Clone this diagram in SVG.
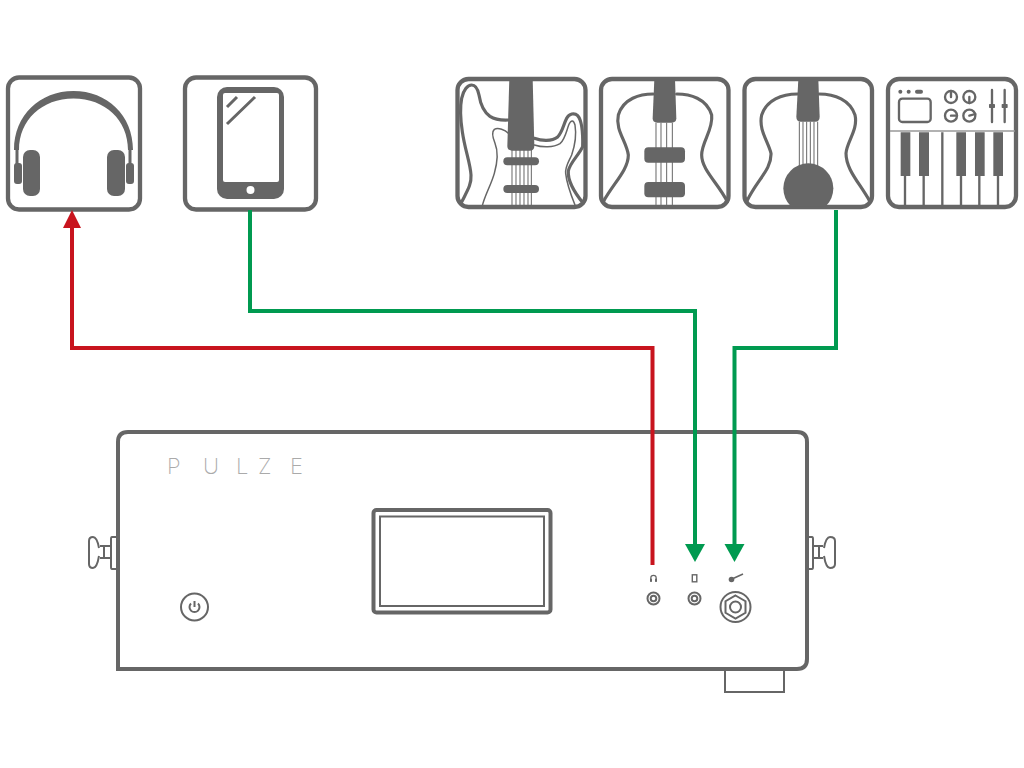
<svg xmlns="http://www.w3.org/2000/svg" width="1024" height="768" viewBox="0 0 1024 768">
<style>
.box{fill:#fff;stroke:#666;stroke-width:4.300}
.f{fill:#666;stroke:none}
.z{fill:none;stroke:#666;stroke-linecap:round;stroke-linejoin:round}
.t9{stroke-width:9.500}.t6{stroke-width:7}.t4{stroke-width:4.500}.t3{stroke-width:3}
.o2{fill:none;stroke:#666;stroke-width:2}
.o4{fill:none;stroke:#666;stroke-width:4}
.wire{fill:none;stroke-width:4}
</style>
<defs>
<marker id="ar" markerUnits="userSpaceOnUse" markerWidth="20" markerHeight="20" refX="2" refY="10" orient="auto"><path d="M0 1L18 10L0 19Z" fill="#c8141e"/></marker>
<marker id="ag" markerUnits="userSpaceOnUse" markerWidth="20" markerHeight="22" refX="2" refY="11" orient="auto"><path d="M0 1L18 11L0 21Z" fill="#009a50"/></marker>
<clipPath id="c3"><rect x="25" y="25" width="390" height="385" rx="30"/></clipPath>
</defs>
<rect width="1024" height="768" fill="#fff"/>

<g id="headphones">
<rect class="box" x="8" y="77.500" width="132" height="132" rx="11"/>
<path class="f" d="M14 150C14 115 40 91 73.500 91C107 91 133 115 133 150H128C128 120 105 98.500 73.500 98.500C42 98.500 19 120 19 150Z"/>
<rect class="f" x="23" y="150" width="17" height="46" rx="7"/>
<rect class="f" x="107" y="150" width="18" height="46" rx="7"/>
<rect class="f" x="14" y="163" width="8" height="21" rx="3"/>
<rect class="f" x="126" y="163" width="8" height="21" rx="3"/>
<path class="z t3" d="M17 150V164M130 150V164"/>
</g>

<g id="phone">
<rect class="box" x="185" y="77.500" width="131" height="132" rx="11"/>
<rect class="f" x="217" y="87" width="67" height="112" rx="10"/>
<rect x="223" y="93" width="56" height="89" rx="2" fill="#fff"/>
<circle cx="250.500" cy="190" r="4" fill="#fff"/>
<path d="M227 107L237 97M227 124L255 97" stroke="#666" stroke-width="3" fill="none"/>
</g>

<g id="electric-guitar">
<rect class="box" x="457.500" y="79" width="128" height="128" rx="11"/>
<g transform="translate(455 75) scale(.33333)">
<path class="z t9" d="M18 385C35 350 50 330 48 300C46 265 30 225 22 170C16 130 14 100 20 70C25 45 38 30 50 30C62 30 68 40 72 60C76 85 85 110 105 124C120 134 140 136 160 135"/>
<path class="z t9" d="M238 190C260 198 290 200 308 186C322 172 325 150 335 130C342 116 358 112 368 122C382 138 384 175 383 215C372 240 345 262 340 288C338 315 352 345 385 385"/>
<path class="z t4" d="M160 175C150 165 130 157 118 163C110 170 112 185 120 205C130 230 128 260 118 295C108 330 90 360 82 392"/>
<path class="z t4" d="M238 210C262 218 295 218 315 206C330 194 335 165 342 148C348 134 356 134 360 150C364 175 362 205 350 240C340 262 330 275 332 295C335 325 350 365 360 390"/>
<path class="z t3" d="M171 225V392M183 225V392M195 225V392M207 225V392M219 225V392M229 225V392" style="stroke-linecap:butt"/>
<path class="f" d="M163 10H233L238 213Q238 227 224 227H171Q157 227 157 213Z"/>
<rect class="f" x="145" y="247" width="107" height="24" rx="12"/>
<rect class="f" x="145" y="330" width="107" height="24" rx="12"/>
</g>
</g>

<g id="western-guitar">
<rect class="box" x="601" y="79" width="127.500" height="128" rx="11"/>
<g transform="translate(450 70) scale(.33333)">
<path class="z t9" d="M460 395C490 340 535 300 535 255C530 215 495 180 505 135C520 85 570 72 610 72M680 72C720 72 770 85 785 135C790 180 755 215 755 255C755 300 805 340 832 395"/>
<path class="z t3" d="M618 158V405M633 158V405M650 158V405M667 158V405" style="stroke-linecap:butt"/>
<path class="f" d="M613 28H675L679 145Q679 158 665 158H622Q608 158 608 145Z"/>
<rect class="f" x="583" y="232" width="122" height="46" rx="12"/>
<rect class="f" x="583" y="336" width="122" height="46" rx="12"/>
</g>
</g>

<g id="acoustic-guitar">
<rect class="box" x="744.500" y="79" width="127.500" height="128" rx="11"/>
<g transform="translate(735 70) scale(.33333)">
<path class="z t9" d="M35 395C65 330 110 300 108 250C100 215 70 180 80 135C95 90 140 72 188 72M252 72C300 72 345 90 360 135C370 180 335 215 333 250C333 300 375 340 405 395"/>
<path class="z t3" d="M193 155V290M204 155V290M215 155V290M226 155V290M237 155V290M248 155V290" style="stroke-linecap:butt"/>
<path class="f" d="M190 28H250L254 140Q254 155 240 155H198Q184 155 184 140Z"/>
<circle class="f" cx="220" cy="355" r="75" clip-path="url(#c3)"/>
</g>
</g>

<g id="keyboard">
<rect class="box" x="888" y="79" width="128" height="128" rx="11"/>
<g transform="translate(735 70) scale(.33333)">
<path d="M465 183H840" stroke="#999" stroke-width="5" fill="none"/>
<path class="f" d="M497 187h29v131h-29zM552 187h30v131h-30zM664 187h29v131h-29zM720 187h29v131h-29zM775 187h29v131h-29z"/>
<path d="M510 318V405M566 318V405M622 187V405M678 318V405M733 318V405M789 318V405" stroke="#666" stroke-width="7" fill="none"/>
<circle class="f" cx="496" cy="65" r="6"/><circle class="f" cx="521" cy="65" r="6"/>
<rect class="f" x="540" y="59" width="24" height="12" rx="6"/>
<rect class="z t6" x="492" y="86" width="95" height="70" rx="10"/>
<circle class="z t6" cx="648" cy="81" r="18"/><circle class="z t6" cx="703" cy="81" r="18"/>
<circle class="z t6" cx="648" cy="137" r="18"/><circle class="z t6" cx="703" cy="137" r="18"/>
<path class="z t6" d="M648 63V81M703 99V81M648 137H666M721 132L703 137"/>
<path class="z t6" d="M771 60V156M809 60V156"/>
<rect class="f" x="762" y="102" width="18" height="12" rx="2"/>
<rect class="f" x="800" y="102" width="18" height="12" rx="2"/>
</g>
</g>

<g id="device">
<path class="o2" d="M725 670V692H784V670"/>
<path class="o2" d="M116 537H112Q111 537 111 539V567Q111 569 112 569H116M111 546H100M111 558H100M104 546V558M99 548Q97 537 93 537Q89 537 89 541V564Q89 568 93 568Q97 568 99 556"/>
<path class="o2" d="M809 537H812Q813 537 813 539V567Q813 569 812 569H809M813 546H823M813 558H823M819 546V558M824 548Q826 537 830 537Q835 537 835 541V564Q835 568 830 568Q826 568 824 556"/>
<path class="o4" d="M118 669V442Q118 432 128 432H797Q807 432 807 442V659Q807 669 797 669Z"/>
<g opacity=".99"><text x="167 203 236 258 290" y="474" font-family="Inter, Lato, 'Liberation Sans', sans-serif" font-weight="200" font-size="22" fill="#aaa">PULZE</text></g>
<rect class="o4" x="373.500" y="510" width="177" height="102.500" rx="3"/>
<rect class="o2" x="380" y="516.500" width="164" height="89.500"/>
<g id="power"><circle class="o2" cx="194.500" cy="607" r="13.500"/>
<path class="o2" d="M191 603.500A5 5 0 1 0 198 603.500M194.500 601V607"/></g>
<g id="jack-headphones"><circle class="o2" cx="653.500" cy="598.500" r="6"/><circle class="o2" cx="653.500" cy="598.500" r="2.800"/>
<path d="M650.800 581V578A2.700 2.700 0 0 1 656.200 578V581" fill="none" stroke="#666" stroke-width="1.200"/>
<rect class="f" x="650" y="578.500" width="2" height="3.500" rx=".7"/><rect class="f" x="655" y="578.500" width="2" height="3.500" rx=".7"/></g>
<g id="jack-phone"><circle class="o2" cx="694.500" cy="598.500" r="6"/><circle class="o2" cx="694.500" cy="598.500" r="2.800"/>
<rect x="692.300" y="574.800" width="4.500" height="7" fill="#fff" stroke="#666" stroke-width="1.400"/></g>
<g id="jack-instrument"><circle class="o2" cx="735.500" cy="607" r="15"/>
<path class="o2" d="M735.500 595.500L745.500 601.250V612.750L735.500 618.500L725.500 612.750V601.250Z"/>
<circle class="o2" cx="735.500" cy="607" r="5.500"/>
<circle class="f" cx="731.500" cy="579.500" r="2.800"/><path d="M732 579L743 574" stroke="#666" stroke-width="1.500" fill="none"/></g>
</g>

<g id="connectors">
<path class="wire" stroke="#c8141e" d="M652.500 565V348H72V226" marker-end="url(#ar)"/>
<path class="wire" stroke="#009a50" d="M250 210V311H695V546" marker-end="url(#ag)"/>
<path class="wire" stroke="#009a50" d="M836 210V348H734.500V546" marker-end="url(#ag)"/>
</g>
</svg>
